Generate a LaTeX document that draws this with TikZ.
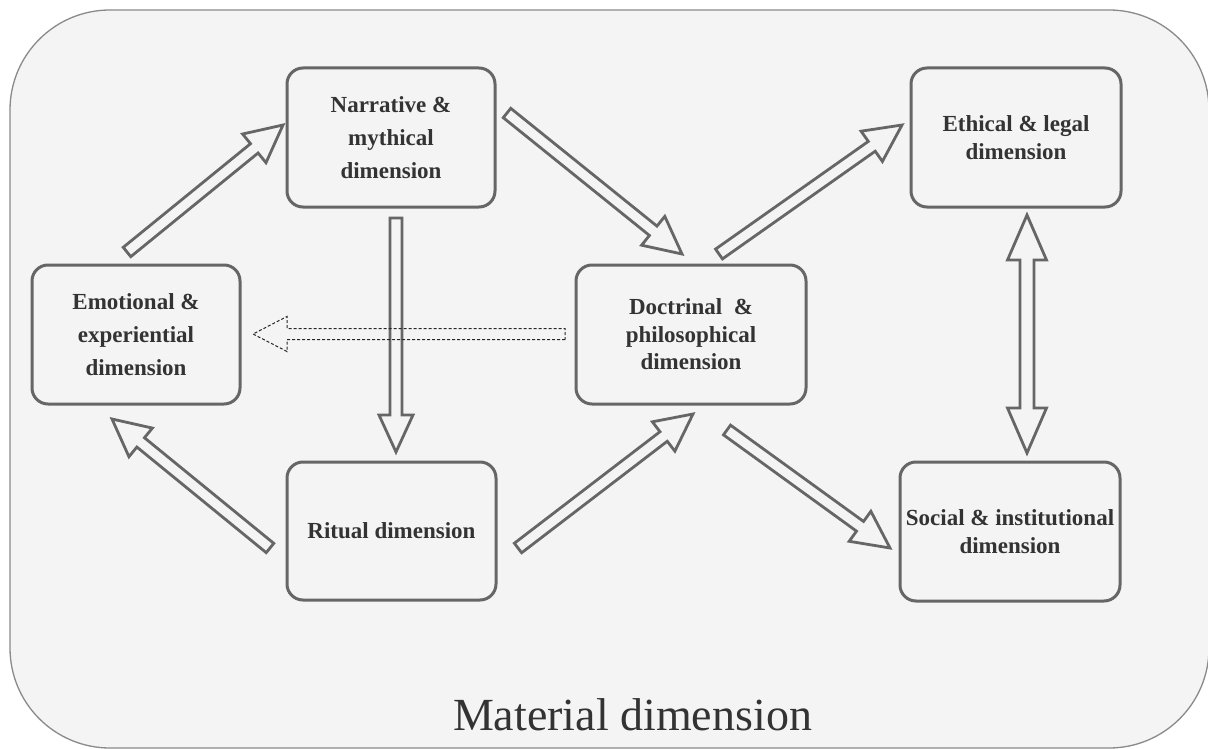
\documentclass[tikz,border=0pt]{standalone}
\usepackage{fontspec}
\setmainfont{Liberation Serif}
\usetikzlibrary{calc}
\definecolor{bg}{HTML}{F4F4F4}
\definecolor{edgec}{HTML}{666666}
\definecolor{txtc}{HTML}{333333}
\definecolor{framec}{HTML}{8A8A8A}
\tikzset{
  dimbox/.style={draw=edgec, line width=3pt, rounded corners=16pt, fill=bg,
    inner sep=0pt, align=center, text=txtc},
  widefont/.style={font=\fontsize{23}{33}\selectfont\bfseries},
  tightfont/.style={font=\fontsize{23}{27.5}\selectfont\bfseries},
  blockarrow/.style={draw=edgec, line width=2.8pt, fill=bg, line join=miter},
  dasharrow/.style={draw=black!85, line width=1pt, dash pattern=on 3pt off 2pt}
}
% #1 style, #2 tail, #3 tip, #4 shaft half width, #5 head half width, #6 head length
\newcommand\blockarr[6][blockarrow]{%
  \coordinate (hb) at ($(#3)!#6!(#2)$);
  \draw[#1] ($(#2)!#4!90:(#3)$) -- ($(hb)!#4!90:(#3)$) -- ($(hb)!#5!90:(#3)$) -- (#3)
    -- ($(hb)!#5!-90:(#3)$) -- ($(hb)!#4!-90:(#3)$) -- ($(#2)!#4!-90:(#3)$) -- cycle;
}
% #1 end A, #2 end B, #3 shaft hw, #4 head hw, #5 head len
\newcommand\dblarr[5]{%
  \coordinate (ha) at ($(#1)!#5!(#2)$);
  \coordinate (hb) at ($(#2)!#5!(#1)$);
  \draw[blockarrow] (#1) -- ($(ha)!#4!90:(#2)$) -- ($(ha)!#3!90:(#2)$)
    -- ($(hb)!#3!-90:(#1)$) -- ($(hb)!#4!-90:(#1)$) -- (#2)
    -- ($(hb)!#4!90:(#1)$) -- ($(hb)!#3!90:(#1)$)
    -- ($(ha)!#3!-90:(#2)$) -- ($(ha)!#4!-90:(#2)$) -- cycle;
}
\begin{document}
\begin{tikzpicture}[x=1pt, y=-1pt]
\useasboundingbox (0,0) rectangle (1208,749);
\fill[white] (0,0) rectangle (1208,749);
\draw[draw=framec, line width=1.3pt, fill=bg, rounded corners=100pt] (10,10) rectangle (1209,748);

% boxes
\node[dimbox, widefont, minimum width=208pt, minimum height=139pt] (narr) at (391,137.5) {Narrative \&\\mythical\\dimension};
\node[dimbox, widefont, minimum width=208pt, minimum height=139pt] (emo) at (136,334.5) {Emotional \&\\experiential\\dimension};
\node[dimbox, tightfont, minimum width=209pt, minimum height=138pt] (rit) at (391.5,531) {Ritual dimension};
\node[dimbox, tightfont, minimum width=230pt, minimum height=139pt] (doc) at (691,334.5) {Doctrinal~ \&\\philosophical\\dimension};
\node[dimbox, tightfont, minimum width=210pt, minimum height=139pt] (eth) at (1016,137.5) {Ethical \& legal\\dimension};
\node[dimbox, tightfont, minimum width=220pt, minimum height=139pt] (soc) at (1010,531.5) {Social \& institutional\\dimension};

% arrow ends
\coordinate (emoT) at (127,252);   \coordinate (narrH) at (283,125);
\coordinate (narrT) at (507,113);  \coordinate (docH1) at (682,254);
\coordinate (narrT2) at (396,218); \coordinate (ritH) at (396,452);
\coordinate (ritT) at (270,548);   \coordinate (emoH) at (112,419);
\coordinate (ritT2) at (518,548);  \coordinate (docH2) at (693,414);
\coordinate (docT1) at (719,254);  \coordinate (ethH) at (902,125);
\coordinate (docT2) at (727,430);  \coordinate (socH) at (890,548);
\coordinate (ethE) at (1027,215);  \coordinate (socE) at (1027,453);
\coordinate (docT3) at (565,334);  \coordinate (emoH2) at (253,334);

\blockarr{emoT}{narrH}{6pt}{18.5pt}{37pt}
\blockarr{narrT}{docH1}{6pt}{18.5pt}{37pt}
\blockarr{narrT2}{ritH}{6pt}{17pt}{37pt}
\blockarr{ritT}{emoH}{6pt}{18.5pt}{37pt}
\blockarr{ritT2}{docH2}{6pt}{18.5pt}{37pt}
\blockarr{docT1}{ethH}{6pt}{18.5pt}{37pt}
\blockarr{docT2}{socH}{6pt}{18.5pt}{37pt}
\dblarr{ethE}{socE}{7pt}{19.5pt}{45pt}
\blockarr[dasharrow]{docT3}{emoH2}{5.5pt}{17.5pt}{34pt}

\node[anchor=base, text=txtc, font=\fontsize{46}{50}\selectfont] (mat) at (632.5,730) {Material dimension};
\end{tikzpicture}
\end{document}
